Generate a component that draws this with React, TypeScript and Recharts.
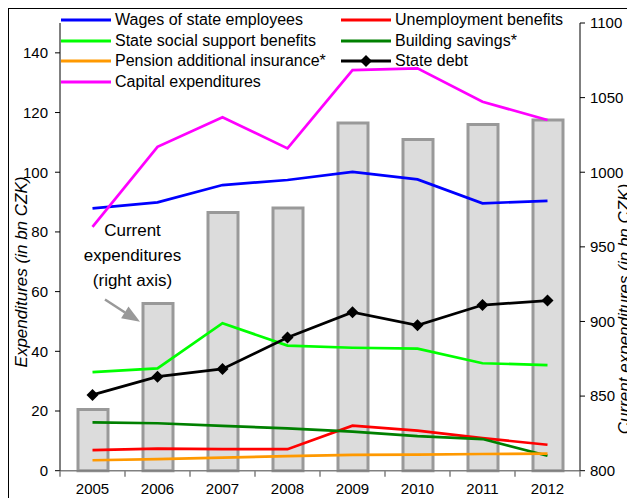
import React from "react";
import {
  Bar,
  ComposedChart,
  Legend,
  Line,
  XAxis,
  YAxis,
} from "recharts";

const years = ["2005", "2006", "2007", "2008", "2009", "2010", "2011", "2012"];
const currentExpenditures = [841, 912, 973, 976, 1033, 1022, 1032, 1035];
const wages = [87.9, 89.9, 95.7, 97.4, 100.1, 97.6, 89.6, 90.4];
const unemployment = [6.9, 7.4, 7.2, 7.2, 15.1, 13.4, 10.9, 8.7];
const socialSupport = [33.0, 34.3, 49.4, 41.9, 41.2, 40.9, 36.0, 35.4];
const buildingSavings = [16.2, 15.9, 15.0, 14.2, 13.1, 11.6, 10.6, 5.0];
const pension = [3.5, 3.9, 4.4, 4.9, 5.3, 5.4, 5.6, 5.7];
const stateDebt = [25.4, 31.5, 34.1, 44.6, 53.1, 48.7, 55.5, 57.0];
const capital = [81.7, 108.5, 118.4, 108.0, 134.2, 134.8, 123.6, 117.5];

const leftTicks = [0, 20, 40, 60, 80, 100, 120, 140];
const rightTicks = [800, 850, 900, 950, 1000, 1050, 1100];

const series = [
  { key: "wages", name: "Wages of state employees", color: "#0000ff" },
  { key: "unemployment", name: "Unemployment benefits", color: "#ff0000" },
  { key: "social", name: "State social support benefits", color: "#00ff00" },
  { key: "building", name: "Building savings*", color: "#008000" },
  { key: "pension", name: "Pension additional insurance*", color: "#ff9900" },
  { key: "debt", name: "State debt", color: "#000000" },
  { key: "capital", name: "Capital expenditures", color: "#ff00ff" },
];

const data = years.map((year, i) => ({
  year,
  current: currentExpenditures[i],
  wages: wages[i],
  unemployment: unemployment[i],
  social: socialSupport[i],
  building: buildingSavings[i],
  pension: pension[i],
  debt: stateDebt[i],
  capital: capital[i],
}));

const FONT = "'Liberation Sans', Arial, sans-serif";

const Diamond = (props: any) => {
  const { cx, cy, index } = props;
  if (cx == null || cy == null) return null;
  const r = 6;
  return (
    <path
      key={`d-${index}`}
      d={`M${cx},${cy - r} L${cx + r},${cy} L${cx},${cy + r} L${cx - r},${cy} Z`}
      fill="#000"
    />
  );
};

const YearTick = (props: any) => {
  const { x, y, payload, index, visibleTicksCount, width } = props;
  const half = payload?.offset ?? width / years.length / 2;
  const axisY = y - 13;
  const last = index === visibleTicksCount - 1;
  return (
    <g>
      <line x1={x - half} y1={axisY} x2={x - half} y2={axisY + 6} stroke="#808080" strokeWidth={1.5} />
      {last && (
        <line x1={x + half} y1={axisY} x2={x + half} y2={axisY + 6} stroke="#808080" strokeWidth={1.5} />
      )}
      <text x={x} y={y} dy="0.71em" textAnchor="middle" fill="#000" fontSize={15}>
        {payload.value}
      </text>
    </g>
  );
};

// legend keeps the reference's row-major order, colours come from the series
const renderLegend = (props: any) => {
  const { payload = [] } = props;
  const items = series.map((s) => {
    const hit = payload.find((p: any) => p.dataKey === s.key);
    return { key: s.key, name: s.name, color: hit?.color ?? s.color };
  });
  return (
    <div style={{ position: "relative", width: 625, height: 95, fontFamily: FONT }}>
      {items.map((item, i) => {
        const col = i % 2;
        const row = Math.floor(i / 2);
        return (
          <div
            key={item.key}
            style={{
              position: "absolute",
              left: col === 0 ? 51 : 331,
              top: 1 + row * 20.6,
              height: 20,
              display: "flex",
              alignItems: "center",
              fontSize: 16,
              color: "#000",
              whiteSpace: "nowrap",
            }}
          >
            <svg width={52} height={14}>
              <line x1={1} y1={7} x2={51} y2={7} stroke={item.color} strokeWidth={3} />
              {item.key === "debt" && <path d="M26,1 L32,7 L26,13 L20,7 Z" fill="#000" />}
            </svg>
            <span style={{ marginLeft: 3 }}>{item.name}</span>
          </div>
        );
      })}
    </div>
  );
};

export default function App() {
  return (
    <div
      style={{
        position: "relative",
        width: 625,
        height: 489,
        borderTop: "1px solid #000",
        borderLeft: "1px solid #000",
        fontFamily: FONT,
        background: "#fff",
      }}
    >
      <ComposedChart
        width={625}
        height={489}
        data={data}
        margin={{ top: 14, right: 0, bottom: 0, left: 0 }}
      >
        <XAxis
          dataKey="year"
          height={27.3}
          axisLine={{ stroke: "#808080", strokeWidth: 1.5 }}
          tickLine={false}
          tickSize={6}
          tickMargin={7}
          interval={0}
          tick={<YearTick />}
        />
        <YAxis
          yAxisId="left"
          width={51}
          domain={[0, 150]}
          ticks={leftTicks}
          interval={0}
          axisLine={{ stroke: "#000" }}
          tickLine={{ stroke: "#000" }}
          tickSize={5}
          tickMargin={7}
          tick={{ fill: "#000", fontSize: 15 }}
        />
        <YAxis
          yAxisId="right"
          orientation="right"
          width={54}
          domain={[800, 1100]}
          ticks={rightTicks}
          interval={0}
          axisLine={{ stroke: "#000" }}
          tickLine={{ stroke: "#000" }}
          tickSize={5}
          tickMargin={5}
          tick={{ fill: "#000", fontSize: 15 }}
        />
        <Legend
          layout="horizontal"
          verticalAlign="middle"
          align="center"
          content={renderLegend}
          wrapperStyle={{ position: "absolute", left: 0, top: 0, width: 625, height: 95, pointerEvents: "none" }}
        />
        <Bar
          yAxisId="right"
          dataKey="current"
          name="Current expenditures"
          fill="#dcdcdc"
          stroke="#999999"
          strokeWidth={3}
          barSize={30}
          legendType="none"
          isAnimationActive={false}
        />
        {series.map((s) => (
          <Line
            key={s.key}
            yAxisId="left"
            type="linear"
            dataKey={s.key}
            name={s.name}
            stroke={s.color}
            strokeWidth={2.7}
            dot={s.key === "debt" ? <Diamond /> : false}
            activeDot={false}
            isAnimationActive={false}
          />
        ))}
      </ComposedChart>
      <svg
        width={625}
        height={489}
        style={{ position: "absolute", left: 0, top: 0, pointerEvents: "none", fontFamily: FONT }}
      >
        <text
          transform="translate(12,263) rotate(-90)"
          textAnchor="middle"
          dominantBaseline="central"
          fontStyle="italic"
          fontSize={17}
          fill="#000"
        >
          Expenditures (in bn CZK)
        </text>
        <text
          transform="translate(615.5,300) rotate(-90)"
          textAnchor="middle"
          dominantBaseline="central"
          fontStyle="italic"
          fontSize={17}
          fill="#000"
        >
          Current expenditures (in bn CZK)
        </text>
        <g fontSize={17} fill="#000" textAnchor="middle">
          <text x={123.5} y={227}>Current</text>
          <text x={123.5} y={252}>expenditures</text>
          <text x={123.5} y={277}>(right axis)</text>
        </g>
        <line x1={96} y1={290.5} x2={116} y2={303.5} stroke="#999999" strokeWidth={2.5} />
        <path d="M131,312.7 L112.1,309.3 L119.5,297.5 Z" fill="#999999" />
      </svg>
    </div>
  );
}
